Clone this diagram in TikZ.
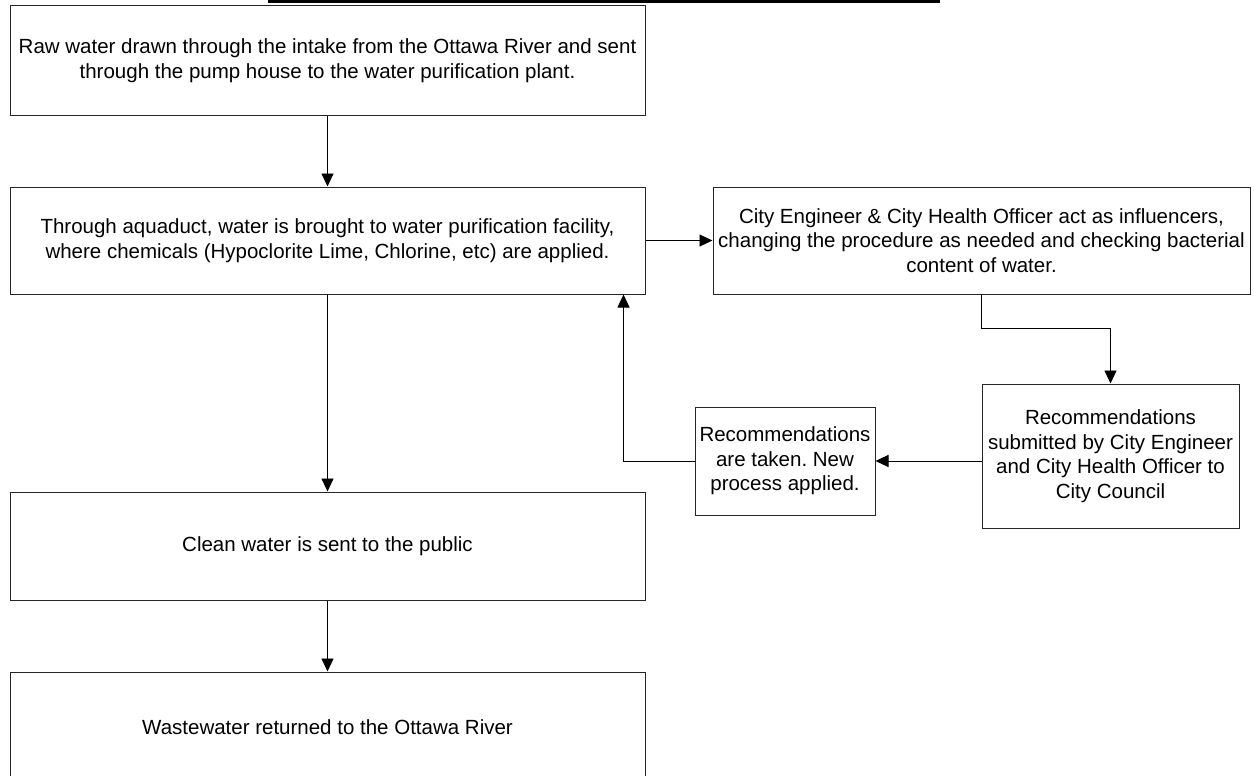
\documentclass[tikz,border=0pt]{standalone}
\usepackage{fontspec}
\setmainfont{Liberation Sans}
\usetikzlibrary{arrows.meta}
\begin{document}
\frenchspacing
\begin{tikzpicture}[x=1pt,y=-1pt,
  box/.style={draw=black!85,line width=1pt,rectangle,align=center,inner sep=0pt,
    font=\fontsize{20.5}{24.5}\selectfont},
  conn/.style={draw=black,line width=0.9pt,-{Triangle[length=13pt,width=12pt]}},
  plain/.style={draw=black,line width=0.9pt}]
\useasboundingbox (0,0) rectangle (1254,776);
\clip (0,0) rectangle (1254,776);
\fill[black] (268,0) rectangle (940,3);
\node[box,minimum width=635pt,minimum height=109pt] (b1) at (327.5,60.5)
  {Raw water drawn through the intake from the Ottawa River and sent\\through the pump house to the water purification plant.};
\node[box,minimum width=635pt,minimum height=107pt] (b2) at (327.5,240.5)
  {Through aquaduct, water is brought to water purification facility,\\where chemicals (Hypoclorite Lime, Chlorine, etc) are applied.};
\node[box,minimum width=537pt,minimum height=107pt] (b3) at (981.5,240.5)
  {City Engineer \& City Health Officer act as influencers,\\changing the procedure as needed and checking bacterial\\content of water.};
\node[box,minimum width=180pt,minimum height=108pt] (b4) at (785,461)
  {Recommendations\\are taken. New\\process applied.};
\node[box,minimum width=257pt,minimum height=144pt] (b5) at (1110.5,456)
  {Recommendations\\submitted by City Engineer\\and City Health Officer to\\City Council};
\node[box,minimum width=635pt,minimum height=108pt] (b6) at (327.5,546)
  {Clean water is sent to the public};
\node[box,minimum width=635pt,minimum height=110pt] (b7) at (327.5,727)
  {Wastewater returned to the Ottawa River};
\draw[conn] (b1.south) -- (b2.north);
\draw[conn] (b2.east) -- (b3.west);
\draw[conn] (b5.west |- b3.south) -- ++(0,34) -| (b5.north);
\draw[conn] (b5.west |- b4.east) -- (b4.east);
\draw[conn] (b4.west) -| ([xshift=-22pt]b2.south east);
\draw[conn] (b2.south) -- (b6.north);
\draw[conn] (b6.south) -- (b7.north);
\end{tikzpicture}
\end{document}
